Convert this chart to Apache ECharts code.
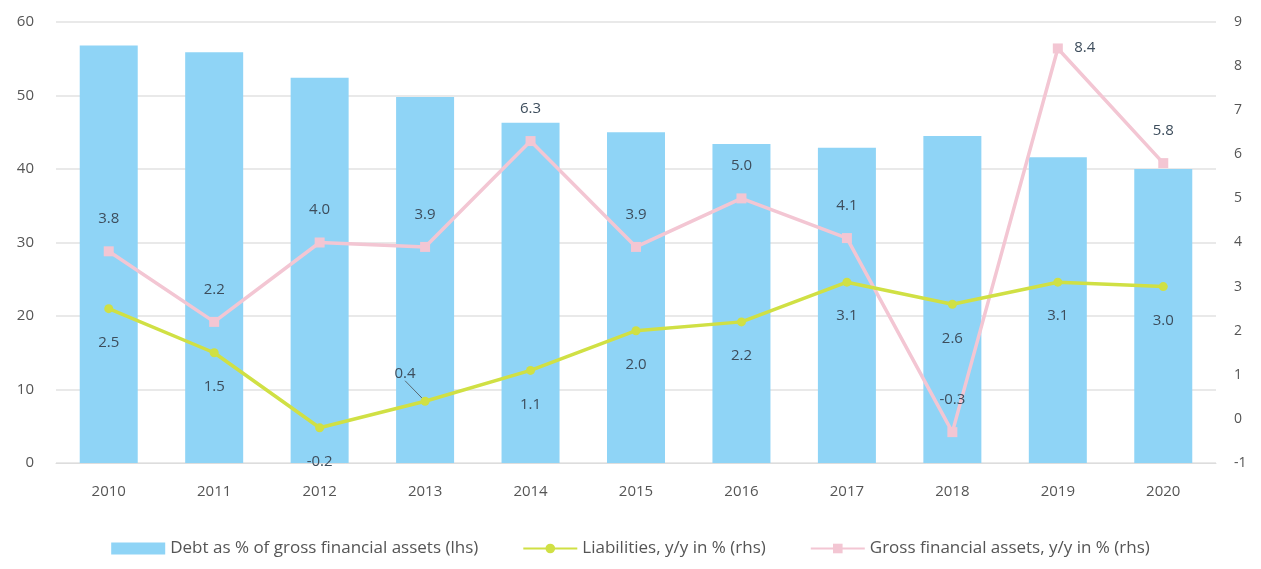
<!DOCTYPE html>
<html><head><meta charset="utf-8">
<script src="https://cdn.jsdelivr.net/npm/echarts@6/dist/echarts.min.js"></script>
<style>html,body{margin:0;padding:0;background:#fff}#c{width:1261px;height:569px}</style>
</head><body><div id="c"></div>
<script>
const categories = ['2010','2011','2012','2013','2014','2015','2016','2017','2018','2019','2020'];
const debtShare = [56.8, 55.9, 52.4, 49.8, 46.3, 45.0, 43.4, 42.9, 44.5, 41.6, 40.0];
const liabilities = [2.5, 1.5, -0.2, 0.4, 1.1, 2.0, 2.2, 3.1, 2.6, 3.1, 3.0];
const grossAssets = [3.8, 2.2, 4.0, 3.9, 6.3, 3.9, 5.0, 4.1, -0.3, 8.4, 5.8];
const leftTicks = {min: 0, max: 60, interval: 10};
const rightTicks = {min: -1, max: 9, interval: 1};

const FONT = 'Open Sans';
const labelColor = '#3d4d5c';
const chart = echarts.init(document.getElementById('c'));
chart.setOption({
  animation: false,
  textStyle: {fontFamily: FONT},
  grid: {left: 56, right: 45, top: 22, bottom: 106, containLabel: false},
  legend: {
    bottom: 7, left: 'center', itemGap: 44, itemWidth: 54, itemHeight: 12,
    textStyle: {fontFamily: FONT, fontSize: 17, color: '#555'},
    data: [
      {name: 'Debt as % of gross financial assets (lhs)', icon: 'rect'},
      {name: 'Liabilities, y/y in % (rhs)'},
      {name: 'Gross financial assets, y/y in % (rhs)'}
    ]
  },
  xAxis: {
    type: 'category', data: categories,
    axisLine: {show: true, lineStyle: {color: '#ddd'}},
    axisTick: {show: false},
    axisLabel: {color: '#555', fontSize: 15, margin: 21, fontFamily: FONT}
  },
  yAxis: [
    {type: 'value', min: leftTicks.min, max: leftTicks.max, interval: leftTicks.interval,
     axisLine: {show: false}, axisTick: {show: false},
     splitLine: {lineStyle: {color: '#e2e2e2', width: 1.5}},
     axisLabel: {color: '#555', fontSize: 15, margin: 22, fontFamily: FONT}},
    {type: 'value', min: rightTicks.min, max: rightTicks.max, interval: rightTicks.interval,
     axisLine: {show: false}, axisTick: {show: false}, splitLine: {show: false},
     axisLabel: {color: '#555', fontSize: 14, margin: 18, fontFamily: FONT}}
  ],
  series: [
    {name: 'Debt as % of gross financial assets (lhs)', type: 'bar', data: debtShare,
     yAxisIndex: 0, barWidth: '55%', itemStyle: {color: '#8fd4f6'}, z: 1},
    {name: 'Liabilities, y/y in % (rhs)', type: 'line',
     data: liabilities.map((v, i) => i === 3 ? {value: v, labelLine: {show: true}} : v),
     yAxisIndex: 1, symbol: 'circle', symbolSize: 9,
     lineStyle: {color: '#d0e044', width: 3.5}, itemStyle: {color: '#d0e044'},
     label: {show: true, position: 'bottom', distance: 22, color: labelColor, fontSize: 15,
             fontFamily: FONT, formatter: p => p.value.toFixed(1)},
     labelLayout: function (p) { if (p.dataIndex === 3) return {dx: -20, dy: -62}; return {}; },
     labelLine: {show: false, lineStyle: {color: '#5a6a72', width: 1}},
     z: 3},
    {name: 'Gross financial assets, y/y in % (rhs)', type: 'line', data: grossAssets, yAxisIndex: 1,
     symbol: 'rect', symbolSize: 10,
     lineStyle: {color: '#f3c6d3', width: 3.5}, itemStyle: {color: '#f3c6d3'},
     label: {show: true, position: 'top', distance: 20, color: labelColor, fontSize: 15,
             fontFamily: FONT, formatter: p => p.value.toFixed(1)},
     labelLayout: function (p) { if (p.dataIndex === 9) return {dx: 27, dy: 32}; return {}; },
     z: 2}
  ]
});
</script></body></html>
